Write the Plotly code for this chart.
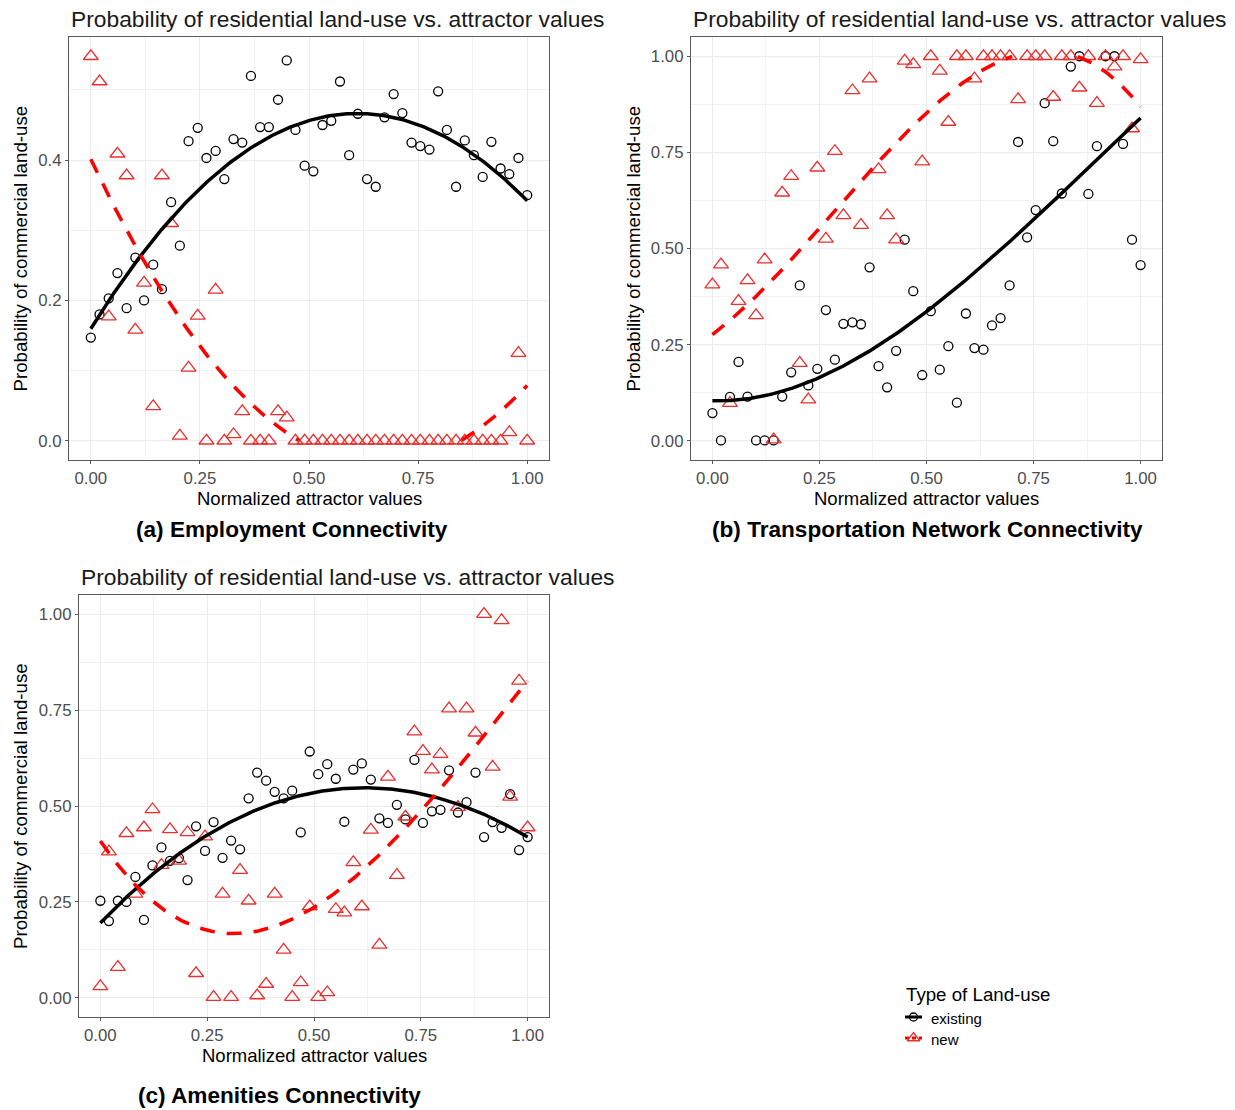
import numpy as np
import plotly.graph_objects as go

# ---------------- data ----------------
attractor_x = [0.000, 0.020, 0.041, 0.061, 0.082, 0.102, 0.122, 0.143, 0.163, 0.184,
               0.204, 0.224, 0.245, 0.265, 0.286, 0.306, 0.327, 0.347, 0.367, 0.388,
               0.408, 0.429, 0.449, 0.469, 0.490, 0.510, 0.531, 0.551, 0.571, 0.592,
               0.612, 0.633, 0.653, 0.673, 0.694, 0.714, 0.735, 0.755, 0.776, 0.796,
               0.816, 0.837, 0.857, 0.878, 0.898, 0.918, 0.939, 0.959, 0.980, 1.000]

emp_existing = [0.147, 0.180, 0.203, 0.239, 0.189, 0.261, 0.200, 0.251, 0.216, 0.340,
                0.278, 0.427, 0.446, 0.403, 0.413, 0.373, 0.430, 0.425, 0.520, 0.447,
                0.447, 0.486, 0.542, 0.443, 0.392, 0.384, 0.450, 0.456, 0.512, 0.407,
                0.466, 0.373, 0.362, 0.461, 0.494, 0.467, 0.425, 0.420, 0.415, 0.498,
                0.443, 0.362, 0.428, 0.407, 0.376, 0.426, 0.388, 0.380, 0.403, 0.350]
emp_new = [0.548, 0.512, 0.177, 0.409, 0.378, 0.158, 0.225, 0.049, 0.378, 0.310,
           0.007, 0.104, 0.178, 0.000, 0.215, 0.000, 0.009, 0.042, 0.000, 0.000,
           0.000, 0.042, 0.033, 0.000, 0.000, 0.000, 0.000, 0.000, 0.000, 0.000,
           0.000, 0.000, 0.000, 0.000, 0.000, 0.000, 0.000, 0.000, 0.000, 0.000,
           0.000, 0.000, 0.000, 0.000, 0.000, 0.000, 0.000, 0.012, 0.125, 0.000]

trans_existing = [0.072, 0.001, 0.114, 0.205, 0.115, 0.001, 0.001, 0.001, 0.115, 0.178,
                  0.404, 0.144, 0.187, 0.340, 0.211, 0.304, 0.308, 0.303, 0.451, 0.194,
                  0.139, 0.234, 0.523, 0.389, 0.171, 0.337, 0.185, 0.246, 0.099, 0.331,
                  0.241, 0.237, 0.300, 0.319, 0.404, 0.777, 0.529, 0.600, 0.878, 0.779,
                  0.643, 0.973, 1.000, 0.642, 0.766, 1.000, 1.000, 0.772, 0.523, 0.457]
trans_new = [0.406, 0.458, 0.098, 0.363, 0.417, 0.326, 0.471, 0.003, 0.645, 0.688,
             0.202, 0.107, 0.710, 0.525, 0.753, 0.586, 0.911, 0.561, 0.942, 0.706,
             0.586, 0.523, 0.988, 0.979, 0.726, 1.000, 0.962, 0.829, 1.000, 1.000,
             0.942, 1.000, 1.000, 1.000, 1.000, 0.888, 1.000, 1.000, 1.000, 0.894,
             1.000, 1.000, 0.918, 1.000, 0.878, 1.000, 0.973, 1.000, 0.812, 0.992]

amen_existing = [0.253, 0.200, 0.253, 0.250, 0.315, 0.203, 0.345, 0.392, 0.357, 0.364,
                 0.307, 0.447, 0.383, 0.458, 0.365, 0.410, 0.387, 0.520, 0.587, 0.566,
                 0.537, 0.520, 0.540, 0.431, 0.642, 0.583, 0.609, 0.571, 0.459, 0.595,
                 0.611, 0.569, 0.468, 0.456, 0.503, 0.465, 0.620, 0.456, 0.486, 0.490,
                 0.593, 0.483, 0.510, 0.587, 0.419, 0.458, 0.443, 0.531, 0.385, 0.419]
amen_new = [0.030, 0.381, 0.080, 0.429, 0.271, 0.444, 0.491, 0.346, 0.439, 0.357,
            0.431, 0.064, 0.420, 0.002, 0.271, 0.002, 0.333, 0.253, 0.006, 0.036,
            0.271, 0.125, 0.002, 0.040, 0.238, 0.002, 0.014, 0.231, 0.222, 0.353,
            0.238, 0.438, 0.138, 0.576, 0.320, 0.472, 0.694, 0.643, 0.595, 0.635,
            0.754, 0.497, 0.754, 0.691, 1.000, 0.602, 0.984, 0.524, 0.826, 0.444]

panel_captions = ["(a) Employment Connectivity",
                  "(b) Transportation Network Connectivity",
                  "(c) Amenities Connectivity"]
plot_title = "Probability of residential land-use vs. attractor values"
x_title = "Normalized attractor values"
y_title = "Probability of commercial land-use"
legend_title = "Type of Land-use"
series_names = ["existing", "new"]

x_ticks = [0.0, 0.25, 0.5, 0.75, 1.0]
y_ticks_a = [0.0, 0.2, 0.4]
y_ticks_bc = [0.0, 0.25, 0.5, 0.75, 1.0]

# ---------------- styling ----------------
OFF = 8                      # page body margin of the html page
W, H = 1235 - OFF, 1110 - OFF
FONT = "Arial, Liberation Sans, sans-serif"
BLACK = "#000000"
RED_LINE = "#FF0000"
RED_PT = "#E8302F"
BORDER = "#5A5A5A"
TICK_SIZE = 16.8


def px_x(px):
    return (px - OFF) / W


def px_y(py):
    return 1 - (py - OFF) / H


def dom_x(l, r):
    return [px_x(l), px_x(r)]


def dom_y(t, b):
    return [px_y(b), px_y(t)]


def fit_curve(x, y, deg, lo, hi):
    coef = np.polyfit(np.array(x), np.array(y), deg)
    xs = np.linspace(0, 1, 301)
    ys = np.polyval(coef, xs)
    ys = [float(v) if lo <= v <= hi else None for v in ys]
    return xs, ys


panels = [
    dict(ax="", ex=emp_existing, nw=emp_new, deg=2, yr=[-0.0274, 0.5754], yt=y_ticks_a,
         yfmt=".1f", ydt=0.2, ymin=0.1, hi=0.5754, ytoff=49,
         box=(69, 549, 37, 460), cap=(292, 530)),
    dict(ax="2", ex=trans_existing, nw=trans_new, deg=3, yr=[-0.05, 1.05], yt=y_ticks_bc,
         yfmt=".2f", ydt=0.25, ymin=0.125, hi=1.0, ytoff=58,
         box=(691, 1162, 37, 460), cap=(927, 530)),
    dict(ax="3", ex=amen_existing, nw=amen_new, deg=3, yr=[-0.05, 1.05], yt=y_ticks_bc,
         yfmt=".2f", ydt=0.25, ymin=0.125, hi=1.0, ytoff=59,
         box=(79, 549, 595, 1017), cap=(279, 1095)),
]

fig = go.Figure()
annotations = []
layout_axes = {}

for p in panels:
    xa = "x" + p["ax"]
    ya = "y" + p["ax"]
    fig.add_trace(go.Scatter(x=attractor_x, y=p["ex"], mode="markers", xaxis=xa, yaxis=ya,
                             marker=dict(symbol="circle-open", size=9, color=BLACK,
                                         line=dict(width=1.3, color=BLACK)),
                             showlegend=False, hoverinfo="skip"))
    fig.add_trace(go.Scatter(x=attractor_x, y=p["nw"], mode="markers", xaxis=xa, yaxis=ya,
                             marker=dict(symbol="triangle-up-open", size=13, color=RED_PT,
                                         line=dict(width=1.3, color=RED_PT)),
                             showlegend=False, hoverinfo="skip"))
    cx, cy = fit_curve(attractor_x, p["ex"], p["deg"], 0.0, p["hi"])
    fig.add_trace(go.Scatter(x=cx, y=cy, mode="lines", xaxis=xa, yaxis=ya,
                             line=dict(color=BLACK, width=3.5), connectgaps=False,
                             showlegend=False, hoverinfo="skip"))
    nx, ny = fit_curve(attractor_x, p["nw"], p["deg"], 0.0, p["hi"])
    fig.add_trace(go.Scatter(x=nx, y=ny, mode="lines", xaxis=xa, yaxis=ya,
                             line=dict(color=RED_LINE, width=3.6, dash="15px,12px"),
                             connectgaps=False, showlegend=False, hoverinfo="skip"))

    l, r, t, b = p["box"]
    common = dict(showline=True, mirror=True, linecolor=BORDER, linewidth=1.2,
                  ticks="outside", ticklen=3, tickcolor=BORDER, tickwidth=1,
                  tickfont=dict(family=FONT, size=TICK_SIZE, color="#4D4D4D"),
                  showgrid=True, gridcolor="#EBEBEB", gridwidth=1.2, zeroline=False)
    layout_axes["xaxis" + p["ax"]] = dict(
        common, domain=dom_x(l, r), range=[-0.05, 1.05], anchor=ya,
        tickvals=x_ticks, tickformat=".2f",
        minor=dict(showgrid=True, gridcolor="#F2F2F2", gridwidth=0.7,
                   tick0=0.125, dtick=0.25))
    layout_axes["yaxis" + p["ax"]] = dict(
        common, domain=dom_y(t, b), range=p["yr"], anchor=xa,
        tickvals=p["yt"], tickformat=p["yfmt"],
        minor=dict(showgrid=True, gridcolor="#F2F2F2", gridwidth=0.7,
                   tick0=p["ymin"], dtick=p["ydt"]))

    # panel title
    annotations.append(dict(text=plot_title, x=px_x(l), y=px_y(t - 18.5), xref="paper",
                            yref="paper", xanchor="left", yanchor="middle", showarrow=False,
                            font=dict(family=FONT, size=22.8, color="#1A1A1A")))
    # axis titles
    annotations.append(dict(text=x_title, x=px_x((l + r) / 2), y=px_y(b + 38),
                            xref="paper", yref="paper", xanchor="center", yanchor="middle",
                            showarrow=False, font=dict(family=FONT, size=18.5, color="#000")))
    annotations.append(dict(text=y_title, x=px_x(l - p["ytoff"]), y=px_y((t + b) / 2),
                            xref="paper", yref="paper", xanchor="center", yanchor="middle",
                            textangle=-90, showarrow=False,
                            font=dict(family=FONT, size=18.7, color="#000")))

for p, cap in zip(panels, panel_captions):
    cxp, cyp = p["cap"]
    annotations.append(dict(text="<b>" + cap + "</b>", x=px_x(cxp), y=px_y(cyp),
                            xref="paper", yref="paper", xanchor="center", yanchor="middle",
                            showarrow=False, font=dict(family=FONT, size=22.6, color="#000")))

# ---------------- manual legend (hidden pixel axis) ----------------
LG_L, LG_R, LG_T, LG_B = 895, 1060, 980, 1050
layout_axes["xaxis4"] = dict(domain=dom_x(LG_L, LG_R), range=[LG_L, LG_R], visible=False,
                             fixedrange=True, anchor="y4")
layout_axes["yaxis4"] = dict(domain=dom_y(LG_T, LG_B), range=[LG_B, LG_T], visible=False,
                             fixedrange=True, anchor="x4")
key_rows = [(1017, BLACK, "solid", "circle-open", 8, BLACK),
            (1038, RED_LINE, "4px,3px", "triangle-up-open", 11, RED_PT)]
for (ky, lc, ld, sym, ms, mc), nm in zip(key_rows, series_names):
    fig.add_trace(go.Scatter(x=[905, 922], y=[ky, ky], mode="lines", xaxis="x4", yaxis="y4",
                             line=dict(color=lc, width=3, dash=ld), showlegend=False,
                             hoverinfo="skip"))
    fig.add_trace(go.Scatter(x=[913.5], y=[ky], mode="markers", xaxis="x4", yaxis="y4",
                             marker=dict(symbol=sym, size=ms, color=mc,
                                         line=dict(width=1.3, color=mc)),
                             showlegend=False, hoverinfo="skip"))
    annotations.append(dict(text=nm, x=px_x(929), y=px_y(ky + 1), xref="paper", yref="paper",
                            xanchor="left", yanchor="middle", showarrow=False,
                            font=dict(family=FONT, size=15, color="#000")))
annotations.append(dict(text=legend_title, x=px_x(904), y=px_y(994), xref="paper",
                        yref="paper", xanchor="left", yanchor="middle", showarrow=False,
                        font=dict(family=FONT, size=18.7, color="#000")))

fig.update_layout(
    width=W, height=H, margin=dict(l=0, r=0, t=0, b=0),
    paper_bgcolor="white", plot_bgcolor="white",
    font=dict(family=FONT),
    annotations=annotations,
    showlegend=False,
    **layout_axes,
)

fig.write_html("out.html")
